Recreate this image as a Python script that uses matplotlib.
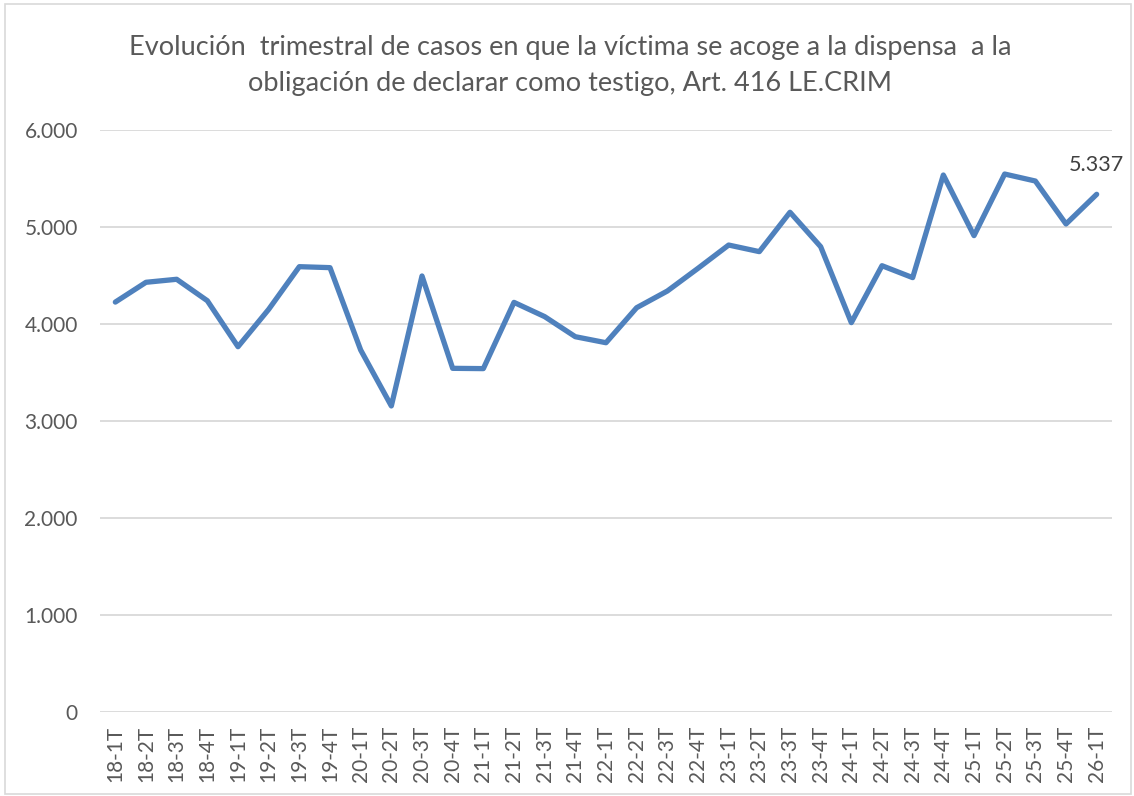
import matplotlib.pyplot as plt
from matplotlib.patches import Rectangle
from matplotlib.ticker import FuncFormatter

quarters = ["18-1T", "18-2T", "18-3T", "18-4T", "19-1T", "19-2T", "19-3T", "19-4T",
            "20-1T", "20-2T", "20-3T", "20-4T", "21-1T", "21-2T", "21-3T", "21-4T",
            "22-1T", "22-2T", "22-3T", "22-4T", "23-1T", "23-2T", "23-3T", "23-4T",
            "24-1T", "24-2T", "24-3T", "24-4T", "25-1T", "25-2T", "25-3T", "25-4T",
            "26-1T"]
cases = [4226, 4430, 4461, 4240, 3766, 4151, 4591, 4581,
         3732, 3155, 4495, 3543, 3540, 4223, 4076, 3869,
         3807, 4168, 4340, 4574, 4814, 4746, 5152, 4797,
         4014, 4601, 4478, 5536, 4911, 5546, 5474, 5031,
         5337]
yticks = [0, 1000, 2000, 3000, 4000, 5000, 6000]

plt.rcParams['font.family'] = ['Lato', 'DejaVu Sans']
grey = '#595959'

fig = plt.figure(figsize=(11.34, 7.96), dpi=100)
ax = fig.add_axes([100 / 1134, 1 - 712 / 796, 1012 / 1134, 582 / 796])

x = range(len(quarters))
ax.plot(x, cases, color='#4F81BD', lw=3.8, solid_joinstyle='round', solid_capstyle='round')
ax.annotate(f"{cases[-1]:,}".replace(",", "."), (x[-1], cases[-1]), xytext=(0, 14),
            textcoords='offset points', ha='center', va='bottom', fontsize=15.5, color='#404040')

ax.set_xlim(-0.5, len(quarters) - 0.5)
ax.set_ylim(0, 6000)
ax.set_yticks(yticks)
ax.yaxis.set_major_formatter(FuncFormatter(lambda v, p: f"{int(v):,}".replace(",", ".")))
ax.set_xticks(list(x))
ax.set_xticklabels(quarters, rotation=90)
ax.tick_params(axis='both', length=0, colors=grey, labelsize=15)
ax.tick_params(axis='y', pad=16)
ax.tick_params(axis='x', pad=10)
ax.grid(axis='y', color='#d9d9d9', lw=1.3)
ax.set_axisbelow(True)
for s in ax.spines.values():
    s.set_visible(False)

fig.text(0.503, 1 - 47 / 796, "Evolución  trimestral de casos en que la víctima se acoge a la dispensa  a la",
         ha='center', va='center', fontsize=19.5, color=grey)
fig.text(0.503, 1 - 84 / 796, "obligación de declarar como testigo, Art. 416 LE.CRIM",
         ha='center', va='center', fontsize=19.5, color=grey)

fig.patches.append(Rectangle((5 / 1134, 2 / 796), 1126 / 1134, 790 / 796, transform=fig.transFigure,
                             fill=False, edgecolor='#d9d9d9', lw=1.2))

fig.savefig('out.png', dpi=100)
